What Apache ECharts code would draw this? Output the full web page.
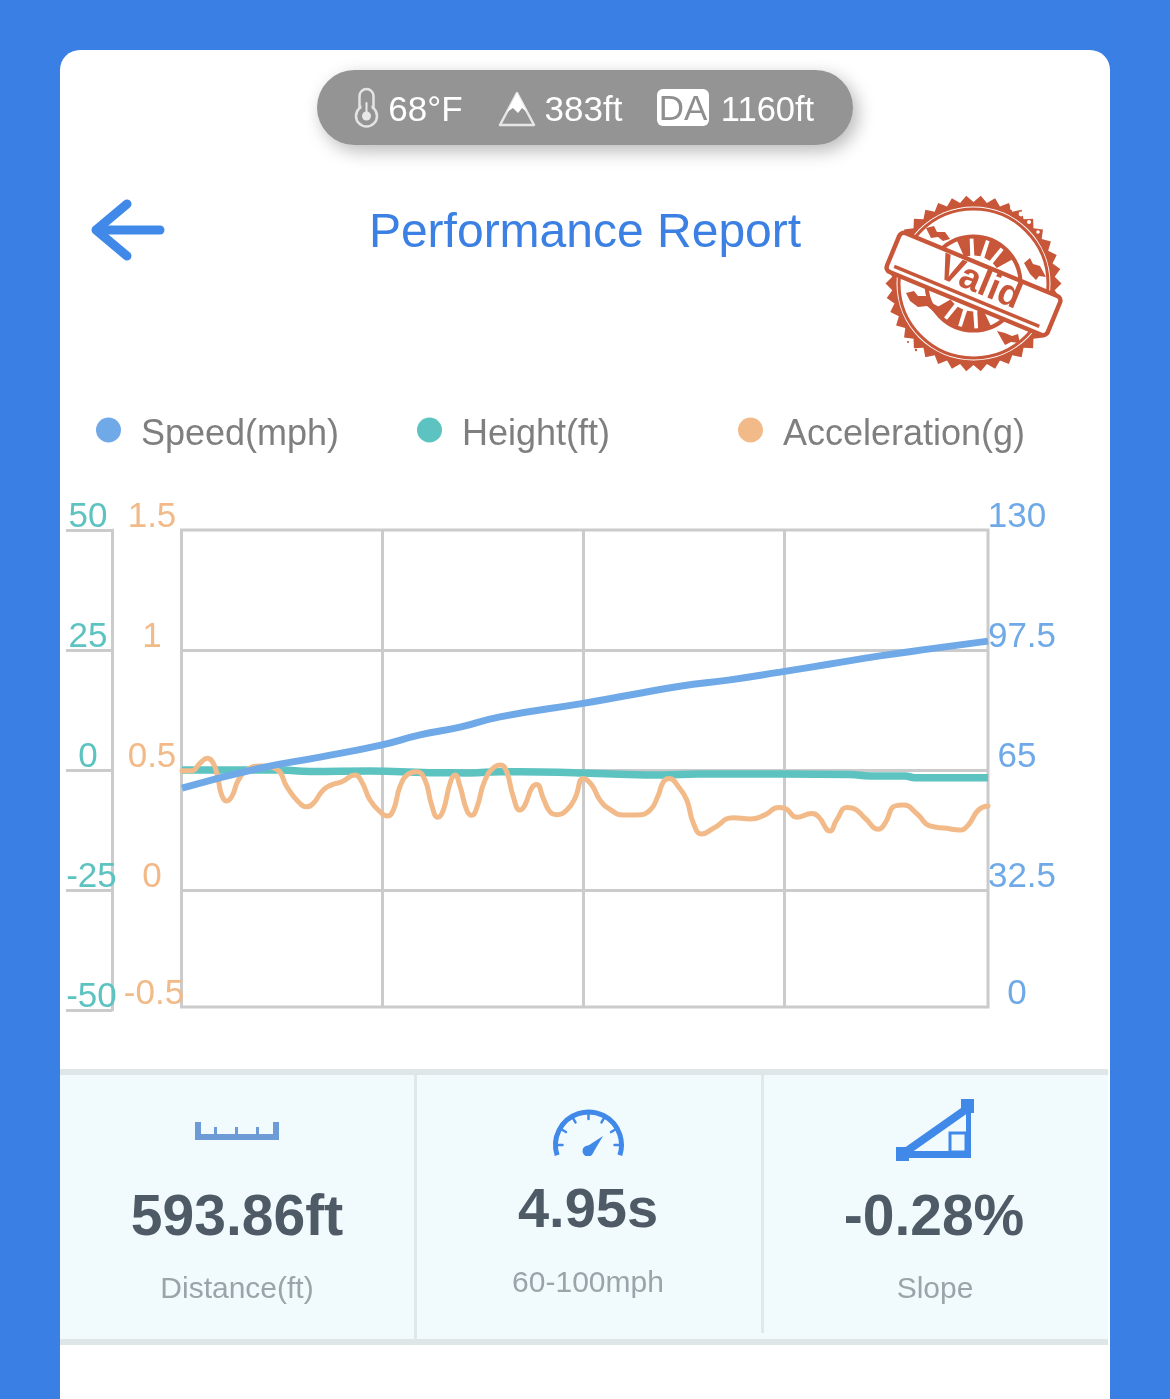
<!DOCTYPE html>
<html>
<head>
<meta charset="utf-8">
<title>Performance Report</title>
<style>html,body{margin:0;padding:0;background:#3a7fe4}#chart{width:1170px;height:1399px}</style>
<script src="https://cdn.jsdelivr.net/npm/echarts@6/dist/echarts.min.js"></script>
</head>
<body>
<div id="chart"></div>
<script>
const seriesNames = ['Speed(mph)', 'Height(ft)', 'Acceleration(g)'];

const speedTime = [0, .387, .685, .993, 1.181, 1.38, 1.578, 1.975, 2.223, 2.471, 2.72, 2.968, 3.216, 3.464, 3.712, 4];
const speedValues = [60.1, 65.5, 68.5, 71.8, 74.5, 76.6, 79.4, 82.9, 85.3, 87.7, 89.4, 91.5, 93.7, 95.9, 97.8, 99.9];

const heightTime = [0, .486, .635, .933, 1.231, 1.429, 1.578, 1.777, 1.99, 2.139, 2.387, 2.556, 2.993, 3.315, 3.414, 3.588, 3.638, 4];
const heightValues = [0, 0, -.3, -.2, -.56, -.6, -.35, -.4, -.6, -.85, -1.05, -.85, -.85, -.95, -1.25, -1.25, -1.6, -1.6];

const accelTime = [0, .048, .089, .126, .156, .18, .197, .222, .247, .28, .329, .387, .47, .52, .577, .619, .652, .701, .743, .793, .859, .892, .933, .983,
  1.019, 1.049, 1.082, 1.123, 1.165, 1.206, 1.239, 1.269, 1.297, 1.33, 1.355, 1.38, 1.413, 1.438, 1.462, 1.504, 1.553, 1.582, 1.611, 1.644, 1.677, 1.702, 1.735, 1.76, 1.793, 1.826, 1.859, 1.909, 1.95, 1.992,
  2.033, 2.074, 2.124, 2.19, 2.257, 2.323, 2.364, 2.389, 2.418, 2.463, 2.505, 2.538, 2.579, 2.637, 2.736, 2.819, 2.893, 2.959, 2.993,
  3.051, 3.125, 3.158, 3.216, 3.249, 3.299, 3.332, 3.39, 3.456, 3.489, 3.538, 3.58, 3.646, 3.712, 3.795, 3.861, 3.902, 3.952, 4];
const accelValues = [.497, .497, .528, .549, .528, .458, .396, .371, .389, .458, .503, .517, .503, .431, .368, .347, .361, .417, .438, .451, .479, .451, .375, .326,
  .308, .333, .431, .483, .493, .458, .354, .303, .333, .444, .479, .431, .333, .311, .34, .458, .514, .521, .493, .389, .333, .354, .424, .44, .382, .326, .314, .333, .382, .465,
  .438, .375, .336, .313, .313, .333, .396, .451, .465, .431, .375, .278, .233, .257, .301, .296, .313, .344, .34,
  .303, .319, .306, .246, .292, .344, .34, .299, .253, .278, .35, .354, .319, .267, .257, .25, .271, .333, .35];

const statValues = ['593.86ft', '4.95s', '-0.28%'];
const statLabels = ['Distance(ft)', '60-100mph', 'Slope'];

const BLUE = '#6fa9e8', TEAL = '#5dc3c1', ORANGE = '#f2ba88', GRID = '#cbcbcb';
const FONT = '"Liberation Sans", Arial, sans-serif';
const ACCENT = '#4089e9', STAMP = '#c8573a', PILL = '#949494', PANEL = '#f1fbfe', RULE = '#dee6e7';
const LABEL_BASE = { fontFamily: FONT, fontSize: 35, lineHeight: 26 };

const pairs = (xs, ys) => xs.map((x, i) => [x, ys[i]]);

const text = (str, x, y, size, fill, weight) => ({
  type: 'text', x, y,
  style: { text: str, fill, textAlign: 'center', textVerticalAlign: 'middle',
           font: `${weight || 'normal'} ${size}px ${FONT}` }
});
const box = (x, y, w, h, fill, extra) => Object.assign(
  { type: 'rect', shape: { x, y, width: w, height: h, r: 0 }, style: { fill } }, extra || {});
const stroke = (pts, color, width) => ({
  type: 'polyline', shape: { points: pts },
  style: { stroke: color, fill: null, lineWidth: width, lineCap: 'round', lineJoin: 'round' }
});

// Rubber-stamp badge beside the title
function stampBadge() {
  const cx = 973.5, cy = 283.5, teeth = 38, outer = [];
  for (let i = 0; i < teeth * 2; i++) {
    const a = Math.PI * i / teeth, r = i % 2 ? 81.5 : 88;
    outer.push([cx + r * Math.cos(a), cy + r * Math.sin(a)]);
  }
  const rays = [];
  for (const deg of [-103, -82, -61, -40, 76, 97, 118, 139]) {
    const a = deg * Math.PI / 180, s = 0.11;
    rays.push({ type: 'polygon', shape: { points: [
      [cx + 28 * Math.cos(a - s), cy + 28 * Math.sin(a - s)],
      [cx + 46 * Math.cos(a - s * 1.3), cy + 46 * Math.sin(a - s * 1.3)],
      [cx + 46 * Math.cos(a + s * 1.3), cy + 46 * Math.sin(a + s * 1.3)],
      [cx + 28 * Math.cos(a + s), cy + 28 * Math.sin(a + s)]
    ] }, style: { fill: STAMP } });
  }
  // worn ink patches around the banner
  const patches = [
    [[926, 228], [934, 226], [937, 232], [945, 232], [950, 239], [943, 241], [938, 237], [931, 238]],
    [[1024, 263], [1030, 258], [1033, 264], [1040, 266], [1046, 277], [1039, 276], [1036, 280], [1030, 274]],
    [[906, 293], [914, 291], [918, 296], [926, 296], [932, 303], [941, 308], [934, 312], [927, 306], [918, 307], [910, 301]],
    [[997, 331], [1005, 333], [1012, 336], [1018, 334], [1020, 343], [1011, 342], [1005, 345]]
  ].map(points => ({ type: 'polygon', shape: { points }, style: { fill: STAMP } }));
  const flecks = [[1014, 214, 1.2], [1022, 220, 1.4], [1030, 228, 1.1], [908, 342, 1.1], [916, 350, 1.2], [1052, 290, 1.2], [897, 300, 1.2]]
    .map(([x, y, r]) => ({ type: 'circle', shape: { cx: x, cy: y, r }, style: { fill: STAMP } }));
  const wear = [[1012, 208, 2], [1021, 214, 2.4], [1029, 222, 2], [1038, 232, 1.8], [895, 336, 1.8], [904, 347, 2]]
    .map(([x, y, r]) => ({ type: 'circle', shape: { cx: x, cy: y, r }, style: { fill: '#fff' } }));
  const tilt = -22.5 * Math.PI / 180;
  return [
    { type: 'polygon', shape: { points: outer }, style: { fill: STAMP } },
    { type: 'circle', shape: { cx, cy, r: 77 }, style: { fill: '#fff' } },
    { type: 'circle', shape: { cx, cy, r: 74.5 }, style: { fill: 'none', stroke: STAMP, lineWidth: 3 } },
    { type: 'circle', shape: { cx, cy, r: 47 }, style: { fill: '#fff', stroke: STAMP, lineWidth: 4 } },
    ...rays,
    ...patches,
    ...flecks,
    ...wear,
    { type: 'group', x: 973.5, y: 284, rotation: tilt, children: [
      { type: 'rect', shape: { x: -87, y: -21, width: 174, height: 42, r: 5 }, style: { fill: '#fff', stroke: STAMP, lineWidth: 4.5 } },
      { type: 'line', shape: { x1: -80, y1: 14, x2: 77, y2: 14 }, style: { stroke: STAMP, lineWidth: 3.5 } },
      { type: 'text', x: 5, y: -3, style: { text: 'Valid', fill: STAMP, textAlign: 'center', textVerticalAlign: 'middle', font: `bold 37px ${FONT}` } }
    ] }
  ];
}

function gaugeIcon() {
  const cx = 588.5, cy = 1145, r = 33, marks = [];
  for (const deg of [-180, -150, -120, -90, -60, -30, 0]) {
    const a = deg * Math.PI / 180;
    marks.push(stroke([[cx + r * Math.cos(a), cy + r * Math.sin(a)], [cx + (r - 7) * Math.cos(a), cy + (r - 7) * Math.sin(a)]], ACCENT, 2.5));
  }
  return [
    { type: 'arc', shape: { cx, cy, r, startAngle: Math.PI * 0.9, endAngle: Math.PI * 2.1, clockwise: true },
      style: { stroke: ACCENT, fill: null, lineWidth: 5 } },
    ...marks,
    { type: 'polygon', shape: { points: [[583, 1149], [603, 1136], [593, 1153]] }, style: { fill: ACCENT } },
    { type: 'circle', shape: { cx: 588, cy: 1151, r: 5.5 }, style: { fill: ACCENT } },
    box(578, 1156, 22, 6, PANEL)
  ];
}

function decorations() {
  return [
    // card and header
    box(60, 50, 1050, 1400, '#ffffff', { z: -2, shape: { x: 60, y: 50, width: 1050, height: 1400, r: 20 } }),
    { type: 'rect', shape: { x: 317, y: 70, width: 536, height: 75, r: 37.5 },
      style: { fill: PILL, shadowBlur: 18, shadowOffsetX: 5, shadowOffsetY: 6, shadowColor: 'rgba(0,0,0,.28)' } },
    { type: 'rect', shape: { x: 359.5, y: 89, width: 14, height: 30, r: 7 }, style: { fill: PILL, stroke: '#e4e4e4', lineWidth: 2.5 } },
    { type: 'circle', shape: { cx: 366.5, cy: 116, r: 10.5 }, style: { fill: PILL, stroke: '#e4e4e4', lineWidth: 2.5 } },
    box(361.5, 100, 10, 12, PILL),
    { type: 'circle', shape: { cx: 366.5, cy: 116, r: 4.5 }, style: { fill: '#e8e8e8' } },
    stroke([[366.5, 116], [366.5, 103]], '#e8e8e8', 2),
    text('68°F', 425.5, 111, 35, '#ffffff'),
    { type: 'polygon', shape: { points: [[517, 93], [534, 125], [500, 125]] },
      style: { fill: null, stroke: '#e6e6e6', lineWidth: 2.5, lineJoin: 'round' } },
    { type: 'polygon', shape: { points: [[517, 93], [527, 112], [522, 108], [518, 113], [513, 108], [507, 112]] }, style: { fill: '#ffffff' } },
    text('383ft', 583.5, 111, 35, '#ffffff'),
    { type: 'rect', shape: { x: 657, y: 89, width: 52, height: 37, r: 6 }, style: { fill: '#ffffff' } },
    text('DA', 683, 110, 35, '#8f8f8f'),
    text('1160ft', 767.5, 111, 34.5, '#ffffff'),
    { type: 'polyline', shape: { points: [[127, 204], [96, 230], [127, 256]] },
      style: { stroke: ACCENT, fill: null, lineWidth: 9, lineCap: 'round', lineJoin: 'round' } },
    stroke([[97, 230], [160, 230]], ACCENT, 9),
    text('Performance Report', 585, 234, 48, '#3b80e2'),
    { type: 'group', children: stampBadge() },

    // statistics strip
    box(60, 1075, 1048, 265, PANEL),
    box(60, 1069, 1048, 6, RULE),
    box(60, 1339, 1048, 6, RULE),
    box(414, 1075, 3, 265, '#e1e8e9'),
    box(761, 1075, 3, 258, '#e1e8e9'),

    // ruler icon
    box(195, 1134, 84, 6, '#6c9bd6'), box(195, 1122, 6, 14, '#6c9bd6'), box(273, 1122, 6, 14, '#6c9bd6'),
    box(214, 1127, 3, 8, '#6c9bd6'), box(235, 1127, 3, 8, '#6c9bd6'), box(256, 1127, 3, 8, '#6c9bd6'),

    ...gaugeIcon(),

    // slope icon
    box(896, 1151, 75, 7, ACCENT), box(896, 1147, 13, 14, ACCENT), box(961, 1099, 13, 14, ACCENT), box(966, 1105, 5, 53, ACCENT),
    { type: 'polyline', shape: { points: [[904, 1153], [968, 1108]] }, style: { stroke: ACCENT, fill: null, lineWidth: 8 } },
    { type: 'rect', shape: { x: 950, y: 1133, width: 16, height: 19 }, style: { fill: null, stroke: ACCENT, lineWidth: 3 } },

    text(statValues[0], 237, 1219, 57, '#4e5a66', 'bold'),
    text(statValues[1], 588, 1212, 56, '#4e5a66', 'bold'),
    text(statValues[2], 934, 1219, 57, '#4e5a66', 'bold'),
    text(statLabels[0], 237, 1290, 30, '#9ba4a9'),
    text(statLabels[1], 588, 1284, 30, '#9ba4a9'),
    text(statLabels[2], 935, 1290, 30, '#9ba4a9')
  ];
}

const legendEntry = (name, left) => ({
  data: [name], left, top: 417, icon: 'circle', itemWidth: 25, itemHeight: 25,
  selectedMode: false, padding: 0,
  formatter: n => `{t|${n}}`,
  textStyle: { rich: { t: { fontFamily: FONT, fontSize: 36, color: '#7f7f7f', padding: [10, 0, 0, 15] } } }
});

const chart = echarts.init(document.getElementById('chart'), null, { renderer: 'canvas' });
chart.setOption({
  backgroundColor: '#3a7fe4',
  animation: false,
  legend: [legendEntry(seriesNames[0], 96), legendEntry(seriesNames[1], 417), legendEntry(seriesNames[2], 738)],
  grid: [
    { left: 182, top: 530, width: 806, height: 480 },
    // frame and vertical rules; its floor stops just above the last tick of the value axes
    { left: 181.5, top: 530, width: 806.5, height: 477, show: true, borderColor: GRID, borderWidth: 3, backgroundColor: 'transparent' }
  ],
  xAxis: [
    { type: 'value', gridIndex: 0, min: 0, max: 4, show: false },
    { type: 'value', gridIndex: 1, min: 0, max: 4.0124, interval: 1, axisLine: { show: false },
      axisLabel: { show: false }, axisTick: { show: false, customValues: [1, 2, 3] },
      splitLine: { show: true, lineStyle: { color: GRID, width: 3 } } }
  ],
  yAxis: [
    { type: 'value', gridIndex: 0, position: 'right', min: 0, max: 130, interval: 32.5,
      axisLine: { show: false }, axisTick: { show: false }, splitLine: { show: false },
      axisLabel: { ...LABEL_BASE, color: BLUE, align: 'center', verticalAlign: 'bottom', margin: 29,
        formatter: v => v === 0 ? '{low|0}' : (v === 97.5 || v === 32.5) ? `{wide|${v}}` : String(v),
        rich: { low: { ...LABEL_BASE, color: BLUE, padding: [0, 0, 5, 0] },
                wide: { ...LABEL_BASE, color: BLUE, padding: [0, 0, 0, 10] } } } },
    { type: 'value', gridIndex: 0, position: 'left', offset: 70, min: -50, max: 50, interval: 25,
      axisLine: { show: true, onZero: false, lineStyle: { color: GRID, width: 3 } },
      axisTick: { show: true, length: 46, lineStyle: { color: GRID, width: 3 } },
      splitLine: { show: false },
      axisLabel: { ...LABEL_BASE, color: TEAL, align: 'center', verticalAlign: 'bottom', margin: 24,
        formatter: v => v < 0 ? `{neg|${v}}` : String(v),
        rich: { neg: { ...LABEL_BASE, color: TEAL, padding: [0, 0, 0, 7] } } } },
    { type: 'value', gridIndex: 0, position: 'left', min: -0.5, max: 1.5, interval: 0.5,
      axisLine: { show: false }, axisTick: { show: false, customValues: [0, 0.5, 1] },
      splitLine: { show: true, lineStyle: { color: GRID, width: 3 } },
      axisLabel: { ...LABEL_BASE, color: ORANGE, align: 'center', verticalAlign: 'bottom', margin: 30,
        customValues: [-0.5, 0, 0.5, 1, 1.5],
        formatter: v => v === -0.5 ? '{low|-0.5}' : String(v),
        rich: { low: { ...LABEL_BASE, color: ORANGE, padding: [0, 0, 5, 4] } } } },
    { type: 'value', gridIndex: 1, show: false, min: 0, max: 1 }
  ],
  series: [
    { name: seriesNames[1], type: 'line', xAxisIndex: 0, yAxisIndex: 1, z: 2, smooth: true, showSymbol: false, clip: false,
      data: pairs(heightTime, heightValues), itemStyle: { color: TEAL }, lineStyle: { color: TEAL, width: 7.5 } },
    { name: seriesNames[2], type: 'line', xAxisIndex: 0, yAxisIndex: 2, z: 3, smooth: true, showSymbol: false, clip: false,
      data: pairs(accelTime, accelValues), itemStyle: { color: ORANGE }, lineStyle: { color: ORANGE, width: 5, cap: 'round' } },
    { name: seriesNames[0], type: 'line', xAxisIndex: 0, yAxisIndex: 0, z: 4, smooth: true, showSymbol: false, clip: false,
      data: pairs(speedTime, speedValues), itemStyle: { color: BLUE }, lineStyle: { color: BLUE, width: 7 } }
  ],
  graphic: { elements: decorations() }
});
</script>
</body>
</html>
